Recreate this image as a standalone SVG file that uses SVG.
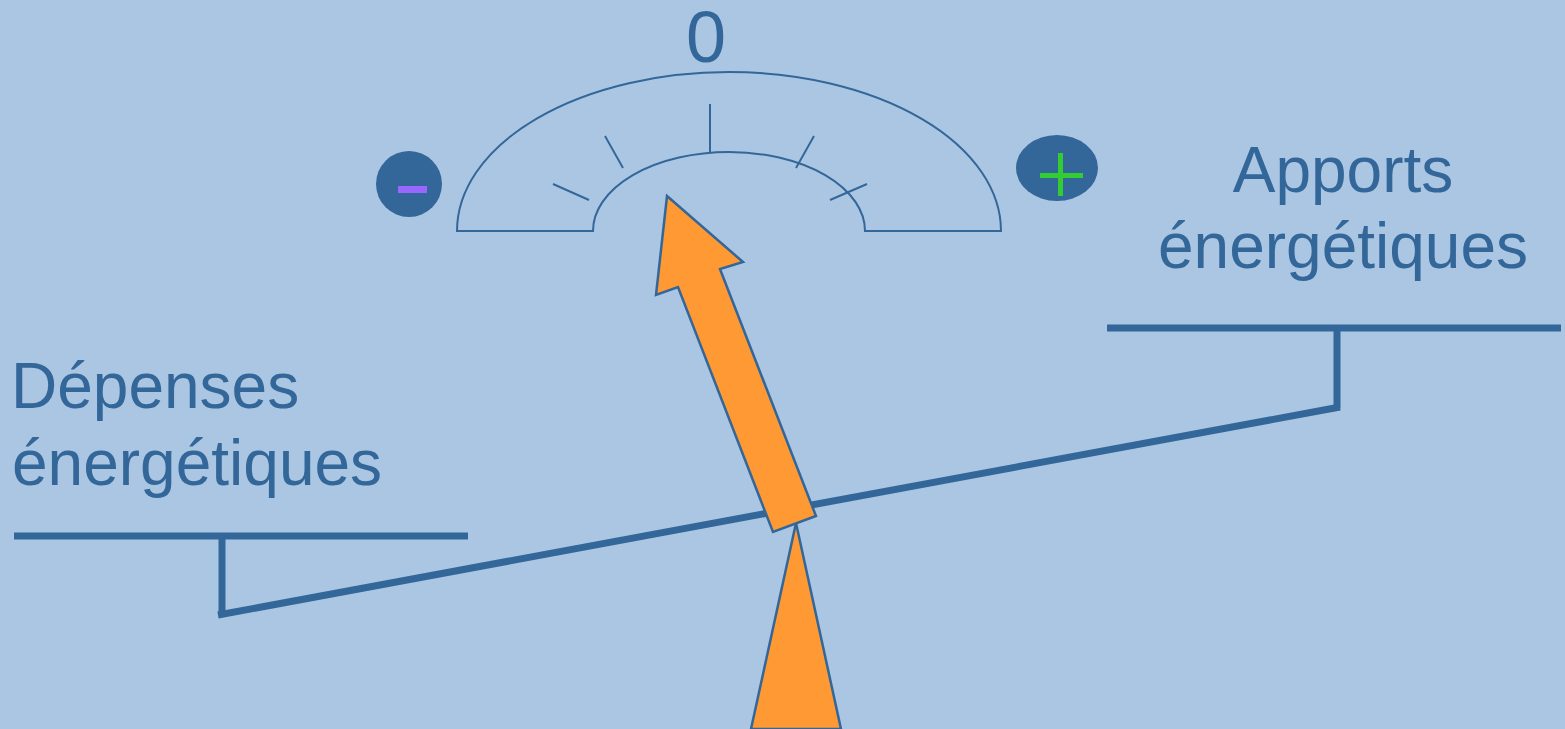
<svg xmlns="http://www.w3.org/2000/svg" width="1565" height="729" viewBox="0 0 1565 729">
<style>
.txt{font-family:"Liberation Sans",Arial,sans-serif;fill:#336699}
.thin{fill:none;stroke:#336699;stroke-width:2}
.bar{fill:none;stroke:#336699;stroke-width:7}
.orange{fill:#FF9933;stroke:#336699;stroke-width:2.5;stroke-linejoin:miter}
</style>
<rect x="0" y="0" width="1565" height="729" fill="#ABC6E2"/>
<g id="gauge">
<path class="thin" d="M457,231 A272,159 0 0 1 1001,231 L865,231 A136,79 0 0 0 593,231 Z"/>
<line class="thin" x1="710" y1="104" x2="710" y2="152"/>
<line class="thin" x1="605" y1="136" x2="623" y2="168"/>
<line class="thin" x1="553" y1="184" x2="589" y2="200"/>
<line class="thin" x1="814" y1="136" x2="796" y2="168"/>
<line class="thin" x1="867" y1="184" x2="830" y2="200"/>
<text class="txt" x="706" y="62" font-size="72" text-anchor="middle">0</text>
</g>
<g id="minus">
<ellipse cx="409" cy="184" rx="33" ry="33" fill="#336699"/>
<rect x="398" y="186" width="29" height="7" fill="#9966FF"/>
</g>
<g id="plus">
<ellipse cx="1057" cy="168" rx="41" ry="33" fill="#336699"/>
<rect x="1040" y="173" width="43" height="5" fill="#33CC33"/>
<rect x="1058" y="153" width="5" height="43" fill="#33CC33"/>
</g>
<g id="labels">
<text class="txt" x="11" y="408" font-size="64">Dépenses</text>
<text class="txt" x="12" y="485" font-size="64">énergétiques</text>
<text class="txt" x="1343" y="192" font-size="64" text-anchor="middle">Apports</text>
<text class="txt" x="1343" y="268" font-size="64" text-anchor="middle">énergétiques</text>
</g>
<g id="balance">
<line class="bar" x1="14" y1="536" x2="468" y2="536"/>
<line class="bar" x1="222" y1="536" x2="222" y2="615"/>
<line class="bar" x1="1107" y1="328" x2="1561" y2="328"/>
<line class="bar" x1="1337" y1="328" x2="1337" y2="408"/>
<line class="bar" x1="218" y1="615" x2="1340" y2="407"/>
</g>
<g id="fulcrum">
<polygon class="orange" points="796,523 751,729 841,729"/>
</g>
<g id="needle">
<polygon class="orange" points="667,196 743,262 720,269 816,516 773,532 678,287 656,295"/>
</g>
</svg>
